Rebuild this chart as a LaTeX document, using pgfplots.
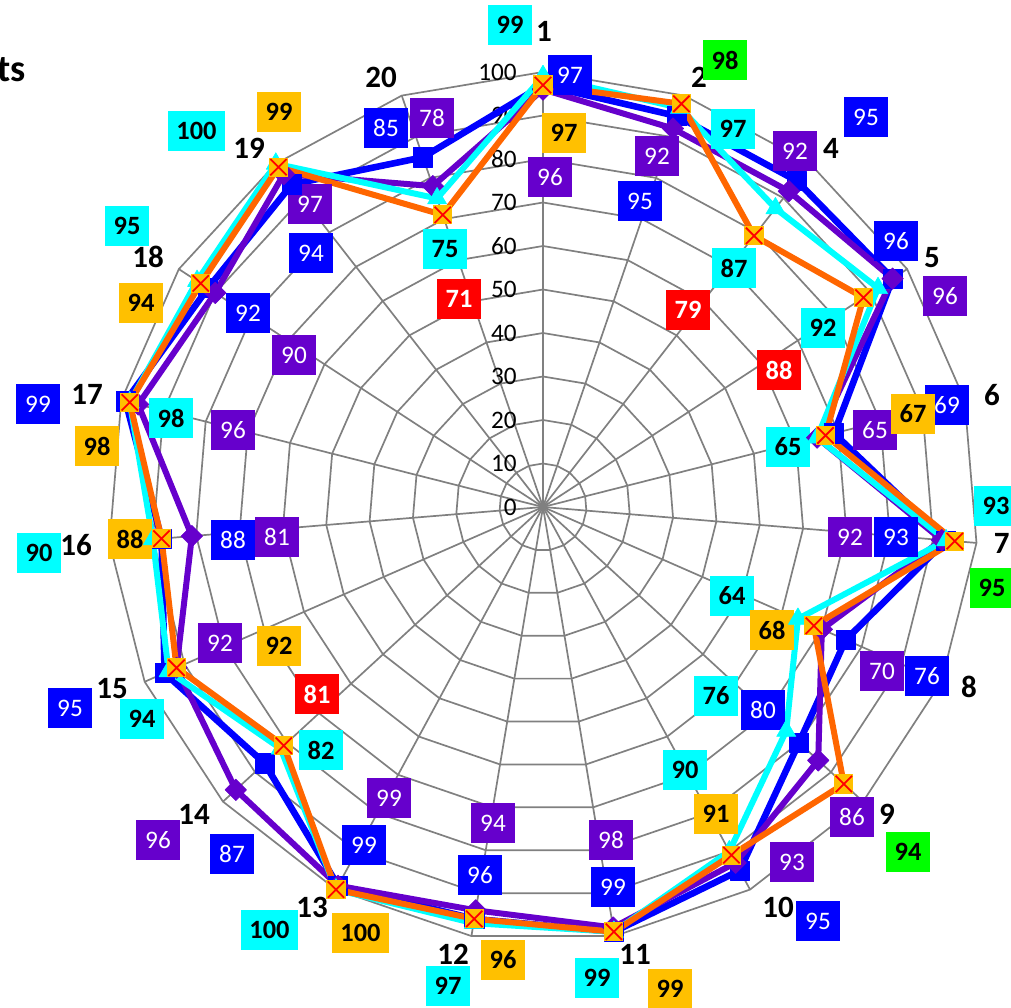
\documentclass[border=0pt]{standalone}
\usepackage{pgfplots}
\pgfplotsset{compat=1.18}
\usepackage{pgfplotstable}
\usepackage{fontspec}
\setmainfont{Carlito}
\definecolor{sblue}{RGB}{0,0,255}
\definecolor{spurple}{RGB}{102,0,204}
\definecolor{scyan}{RGB}{0,255,255}
\definecolor{sorange}{RGB}{255,102,0}
\definecolor{sgold}{RGB}{255,192,0}
\definecolor{sgreen}{RGB}{0,255,0}
\definecolor{sred}{RGB}{255,0,0}
\definecolor{gridgray}{RGB}{128,128,128}

% categories 1,2,4,...,20 (19 spokes); last row closes the polygon
\pgfplotstableread{
cat blue purple cyan orange
1  97 96 99  97
2  95 92 97  98
4  95 92 87  79
5  96 96 92  88
6  69 65 65  67
7  93 92 93  95
8  76 70 64  68
9  80 86 76  94
10 95 93 90  91
11 99 98 99  99
12 96 94 97  96
13 99 99 100 100
14 87 96 82  81
15 95 92 94  92
16 88 81 90  88
17 99 96 98  98
18 92 90 95  94
19 94 97 100 99
20 85 78 75  71
1  97 96 99  97
}\radardata

\pgfplotstableread{
i d
0 0
1 0
2 0
3 0
4 0
5 0
6 0
7 0
8 0
9 0
10 0
11 0
12 0
13 0
14 0
15 0
16 0
17 0
18 0
19 0
}\ringtab

\pgfplotstableread{
r d
0 0
100 0
}\spoketab

\pgfdeclareplotmark{sqx}{%
  \pgfpathrectangle{\pgfqpoint{-\pgfplotmarksize}{-\pgfplotmarksize}}{\pgfqpoint{2\pgfplotmarksize}{2\pgfplotmarksize}}%
  \pgfsetfillcolor{sgold}\pgfusepathqfill
  \pgfsetstrokecolor{sred}\pgfsetlinewidth{0.9pt}%
  \pgfpathmoveto{\pgfqpoint{-0.85\pgfplotmarksize}{-0.85\pgfplotmarksize}}%
  \pgfpathlineto{\pgfqpoint{0.85\pgfplotmarksize}{0.85\pgfplotmarksize}}%
  \pgfpathmoveto{\pgfqpoint{-0.85\pgfplotmarksize}{0.85\pgfplotmarksize}}%
  \pgfpathlineto{\pgfqpoint{0.85\pgfplotmarksize}{-0.85\pgfplotmarksize}}%
  \pgfusepathqstroke}

\newcommand{\RX}[1]{543+4.35*\thisrow{#1}*sin(\coordindex*360/19)}
\newcommand{\RY}[1]{507-4.35*\thisrow{#1}*cos(\coordindex*360/19)}

\tikzset{
  box/.style={inner xsep=4.6pt, inner ysep=0pt, minimum height=20pt, font=\fontsize{12.6}{12.6}\selectfont},
  bbox/.style={box, inner xsep=4.2pt, font=\fontsize{13.2}{13.2}\selectfont\bfseries},
  lblue/.style={box, fill=sblue, text=white},
  lpurple/.style={box, fill=spurple, text=white},
  lcyan/.style={bbox, fill=scyan, text=black},
  lgold/.style={bbox, fill=sgold, text=black},
  lgreen/.style={bbox, fill=sgreen, text=black},
  lred/.style={bbox, fill=sred, text=white},
  cat/.style={font=\fontsize{15.5}{15.5}\selectfont\bfseries, inner sep=0pt},
  tick/.style={anchor=east, inner sep=0pt, font=\fontsize{12.6}{12.6}\selectfont}
}
\newcommand{\lb}[4]{\node[#1] at (axis cs:#2,#3) {#4};}
\newcommand{\cl}[3]{\node[cat] at (axis cs:#1,#2) {#3};}
\newcommand{\tl}[2]{\node[tick] at (axis cs:517,#1) {#2};}

\begin{document}
\begin{tikzpicture}
\begin{axis}[
  x=0.5pt, y=0.5pt,
  xmin=0, xmax=1011, ymin=0, ymax=1007,
  y dir=reverse,
  enlargelimits=false,
  hide axis,
  clip=false,
  gridline/.style={gridgray, line width=0.85pt, no marks},
]
% grid: spokes
\pgfplotsinvokeforeach{0,...,18}{
  \addplot[gridline] table[x expr={543+4.35*\thisrow{r}*sin(#1*360/19)}, y expr={507-4.35*\thisrow{r}*cos(#1*360/19)}] {\spoketab};
}
% grid: rings
\pgfplotsinvokeforeach{10,20,...,100}{
  \addplot[gridline] table[x expr={543+4.35*#1*sin(\coordindex*360/19)}, y expr={507-4.35*#1*cos(\coordindex*360/19)}] {\ringtab};
}

% tick labels
\tl{72}{100}
\tl{115.5}{90}
\tl{159}{80}
\tl{202.5}{70}
\tl{246}{60}
\tl{289.5}{50}
\tl{333}{40}
\tl{376.5}{30}
\tl{420}{20}
\tl{463.5}{10}
\tl{507}{0}

% series
\addplot[sblue, line width=3.3pt, line join=round, mark=square*, mark size=4.8pt, mark options={line width=0.3pt}]
  table[x expr={\RX{blue}}, y expr={\RY{blue}}] {\radardata};
\addplot[spurple, line width=3.0pt, line join=round, mark=square*, mark size=3.8pt, mark options={rotate=45, line width=0.3pt}]
  table[x expr={\RX{purple}}, y expr={\RY{purple}}] {\radardata};
\addplot[scyan, line width=3.0pt, line join=round, mark=triangle*, mark size=5.5pt, mark options={line width=0.3pt}]
  table[x expr={\RX{cyan}}, y expr={\RY{cyan}}] {\radardata};
\addplot[sorange, line width=3.0pt, line join=round, mark=sqx, mark size=4.8pt]
  table[x expr={\RX{orange}}, y expr={\RY{orange}}] {\radardata};

% category labels
\cl{544}{31}{1}
\cl{699}{77}{2}
\cl{831}{148}{4}
\cl{932}{258}{5}
\cl{992}{395}{6}
\node[cat, anchor=east] at (axis cs:1010,543) {7};
\cl{969}{687}{8}
\cl{887}{814}{9}
\cl{778}{907}{10}
\cl{635}{954}{11}
\cl{453}{954}{12}
\cl{312}{907}{13}
\cl{194}{814}{14}
\cl{112}{689}{15}
\cl{76}{545}{16}
\cl{87}{394}{17}
\cl{148}{257}{18}
\cl{249}{148}{19}
\cl{381}{77}{20}
\node[font=\fontsize{19}{19}\selectfont\bfseries, anchor=east, inner sep=0pt] at (axis cs:26,70) {ts};

% data labels: blue
\lb{lblue}{570}{75}{97}
\lb{lblue}{640}{201}{95}
\lb{lblue}{866}{117}{95}
\lb{lblue}{896}{241}{96}
\lb{lblue}{947}{405}{69}
\lb{lblue}{896}{537}{93}
\lb{lblue}{927}{676}{76}
\lb{lblue}{763}{710}{80}
\lb{lblue}{818}{921}{95}
\lb{lblue}{613}{887}{99}
\lb{lblue}{480}{875}{96}
\lb{lblue}{364}{845}{99}
\lb{lblue}{232}{854}{87}
\lb{lblue}{70}{708}{95}
\lb{lblue}{233}{540}{88}
\lb{lblue}{38}{404}{99}
\lb{lblue}{248}{313}{92}
\lb{lblue}{311}{253}{94}
\lb{lblue}{386}{128}{85}
% purple
\lb{lpurple}{550}{177}{96}
\lb{lpurple}{657}{156}{92}
\lb{lpurple}{795}{151}{92}
\lb{lpurple}{945}{296}{96}
\lb{lpurple}{875}{430}{65}
\lb{lpurple}{850}{537}{92}
\lb{lpurple}{882}{671}{70}
\lb{lpurple}{852}{817}{86}
\lb{lpurple}{792}{862}{93}
\lb{lpurple}{611}{840}{98}
\lb{lpurple}{493}{823}{94}
\lb{lpurple}{389}{798}{99}
\lb{lpurple}{158}{840}{96}
\lb{lpurple}{220}{643}{92}
\lb{lpurple}{277}{537}{81}
\lb{lpurple}{233}{430}{96}
\lb{lpurple}{294}{355}{90}
\lb{lpurple}{310}{204}{97}
\lb{lpurple}{432}{118}{78}
% cyan
\lb{lcyan}{510}{25}{99}
\lb{lcyan}{733}{129}{97}
\lb{lcyan}{734}{268}{87}
\lb{lcyan}{823}{328}{92}
\lb{lcyan}{788}{447}{65}
\lb{lcyan}{996}{506}{93}
\lb{lcyan}{732}{596}{64}
\lb{lcyan}{716}{696}{76}
\lb{lcyan}{685}{770}{90}
\lb{lcyan}{597}{978}{99}
\lb{lcyan}{448}{986}{97}
\lb{lcyan}{269.5}{930}{100}
\lb{lcyan}{321}{750}{82}
\lb{lcyan}{142}{719}{94}
\lb{lcyan}{39}{553}{90}
\lb{lcyan}{171}{418}{98}
\lb{lcyan}{127}{226}{95}
\lb{lcyan}{196.5}{131}{100}
\lb{lcyan}{445}{249}{75}
% orange series labels
\lb{lgold}{564}{133}{97}
\lb{lgreen}{725}{60}{98}
\lb{lred}{688}{310}{79}
\lb{lred}{779}{370}{88}
\lb{lgold}{913}{414}{67}
\lb{lgreen}{992}{588}{95}
\lb{lgold}{772}{630}{68}
\lb{lgreen}{908}{852}{94}
\lb{lgold}{716}{814}{91}
\lb{lgold}{670}{989}{99}
\lb{lgold}{503}{960}{96}
\lb{lgold}{360.5}{933}{100}
\lb{lred}{317}{694}{81}
\lb{lgold}{279}{646}{92}
\lb{lgold}{130}{539}{88}
\lb{lgold}{97}{446}{98}
\lb{lgold}{141}{303}{94}
\lb{lgold}{279}{112}{99}
\lb{lred}{459}{299}{71}
\end{axis}
\pgfresetboundingbox
\path[use as bounding box] (current axis.south west) rectangle (current axis.north east);
\end{tikzpicture}
\end{document}
